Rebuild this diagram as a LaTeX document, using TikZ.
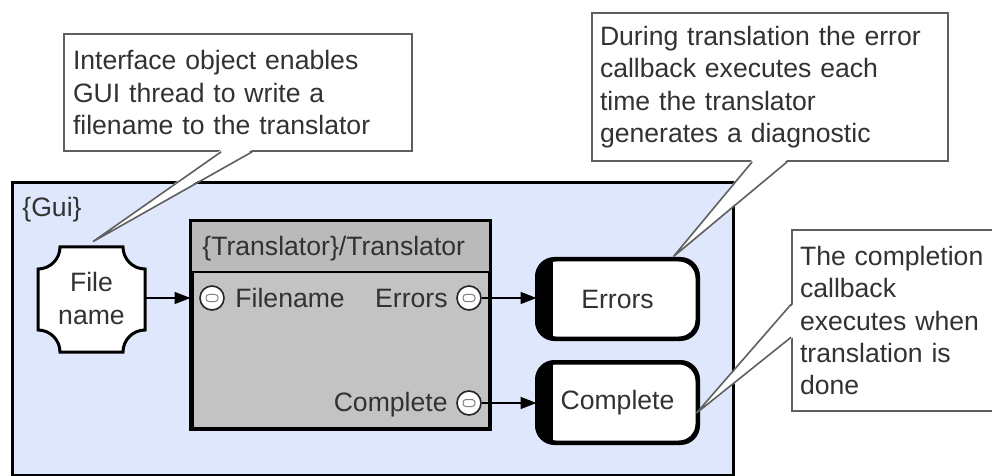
\documentclass[tikz,border=0pt]{standalone}
\usepackage{fontspec}
\setmainfont{Liberation Sans}
\usetikzlibrary{calc,arrows.meta}
\definecolor{guiblue}{RGB}{223,231,252}
\definecolor{hdrgray}{RGB}{186,186,186}
\definecolor{bodygray}{RGB}{195,195,195}
\definecolor{txt}{RGB}{50,50,50}
\definecolor{callgray}{RGB}{95,95,95}
\begin{document}
\begin{tikzpicture}[x=0.5pt,y=-0.5pt,
  every node/.style={font=\fontsize{13.3pt}{16.2pt}\selectfont, text=txt},
  box/.style={draw=black, line width=1.5pt, inner sep=0pt},
  port/.style={circle, draw=black!85, fill=white, line width=0.8pt, minimum size=12pt, inner sep=0pt},
  lbl/.style={inner sep=0pt},
  callbox/.style={draw=callgray, fill=white, line width=0.8pt, inner ysep=0pt, align=left},
  wedgeline/.style={draw=callgray, line width=0.8pt, line join=miter},
  flow/.style={-{Triangle[length=8pt,width=6pt]}, line width=0.8pt, draw=black},
  endpt/.style={draw=black, line width=1.5pt, fill=white, rounded corners=9pt, minimum width=79.5pt, inner sep=0pt}
]
\useasboundingbox (0,0) rectangle (992,476);
\fill[white] (0,0) rectangle (992,476);

% Gui container
\node[box, fill=guiblue, minimum width=360.5pt, minimum height=146pt] (gui) at (372.5,329) {};
\node[lbl, anchor=base west] (guilbl) at (22,217) {\{Gui\}};

% Translator
\node[box, fill=bodygray, minimum width=148.5pt, minimum height=103pt] (tr) at (340.5,325) {};
\node[fill=hdrgray, inner sep=0pt, minimum width=148.5pt, minimum height=25pt] (hdr) at (340.5,247) {};
\draw[line width=1pt] (hdr.south west) -- (hdr.south east);
\draw[line width=1.5pt] (tr.north west) rectangle (tr.south east);
\node[lbl, anchor=base west] (title) at (202,256) {\{Translator\}/Translator};

% Ports
\node[port] (pf) at (212,298) {};
\node[port] (pe) at (469,298) {};
\node[port] (pc) at (469,403) {};
\foreach \p in {pf,pe,pc}{
  \draw[fill=white, draw=gray, line width=0.5pt, rounded corners=1.5pt]
    ($(\p)+(-6,-3.5)$) rectangle ($(\p)+(6,3.5)$);
}
\node[lbl, anchor=base west] (lf) at (235,307) {Filename};
\node[lbl, anchor=base east] (le) at (448,307) {Errors};
\node[lbl, anchor=base east] (lc) at (448,411) {Complete};

% File name (concave corners)
\draw[line width=1.5pt, fill=white, line join=miter]
  (60,247) -- (123,247) .. controls (123,259.1) and (132.9,269) .. (145,269)
  -- (145,330) .. controls (132.9,330) and (123,339.9) .. (123,352)
  -- (60,352) .. controls (60,339.9) and (50.1,330) .. (38,330)
  -- (38,269) .. controls (50.1,269) and (60,259.1) .. (60,247) -- cycle;
\node[align=center, inner sep=0pt, minimum width=53.5pt, minimum height=52.5pt] (fn) at (91.5,298.5) {File\\name};

% Endpoint nodes
\node[endpt, minimum height=39pt] (err) at (617.5,299) {Errors};
\node[endpt, minimum height=39.5pt] (cmp) at (617.5,402.5) {Complete};
\foreach \n in {err,cmp}{
  \begin{scope}
    \clip[rounded corners=9pt] (\n.north west) rectangle (\n.south east);
    \fill[black] (\n.north west) rectangle ($(\n.south west)+(16,0)$);
  \end{scope}
  \draw[line width=1.5pt, rounded corners=9pt] (\n.north west) rectangle (\n.south east);
}

% Connectors
\draw[flow] (fn.east |- pf) -- (pf -| tr.west);
\draw[flow] (pe.east) -- (pe -| err.west);
\draw[flow] (pc.east) -- (pc -| cmp.west);

% Callout 1
\node[callbox, minimum width=174pt, minimum height=58.5pt, text width=165pt, inner xsep=4.5pt] (c1) at (238,92.5)
  {Interface object enables\\GUI thread to write a\\filename to the translator};
\coordinate (t1) at ($(fn.north)+(1.5,-4)$);
\fill[white] ($(c1.south west)+(158,-2)$) -- (t1) -- ($(c1.south west)+(189,-2)$) -- cycle;
\draw[wedgeline] ($(c1.south west)+(158,0)$) -- (t1) -- ($(c1.south west)+(189,0)$);

% Callout 2
\node[callbox, minimum width=178pt, minimum height=74pt, text width=170pt, inner xsep=4pt] (c2) at (770,87)
  {During translation the error\\callback executes each\\time the translator\\generates a diagnostic};
\coordinate (t2) at ($(err.north east)+(-25,-2)$);
\fill[white] ($(c2.south west)+(161,-2)$) -- (t2) -- ($(c2.south west)+(196,-2)$) -- cycle;
\draw[wedgeline] ($(c2.south west)+(161,0)$) -- (t2) -- ($(c2.south west)+(196,0)$);

% Callout 3
\node[callbox, minimum width=109pt, minimum height=90.5pt, text width=101pt, inner xsep=4pt] (c3) at (901,320.5)
  {The completion\\callback\\executes when\\translation is\\done};
\coordinate (t3) at ($(cmp.east)+(-2,10.5)$);
\fill[white] ($(c3.north west)+(2,75)$) -- (t3) -- ($(c3.north west)+(2,108)$) -- cycle;
\draw[wedgeline] ($(c3.north west)+(0,75)$) -- (t3) -- ($(c3.north west)+(0,108)$);
\end{tikzpicture}
\end{document}
